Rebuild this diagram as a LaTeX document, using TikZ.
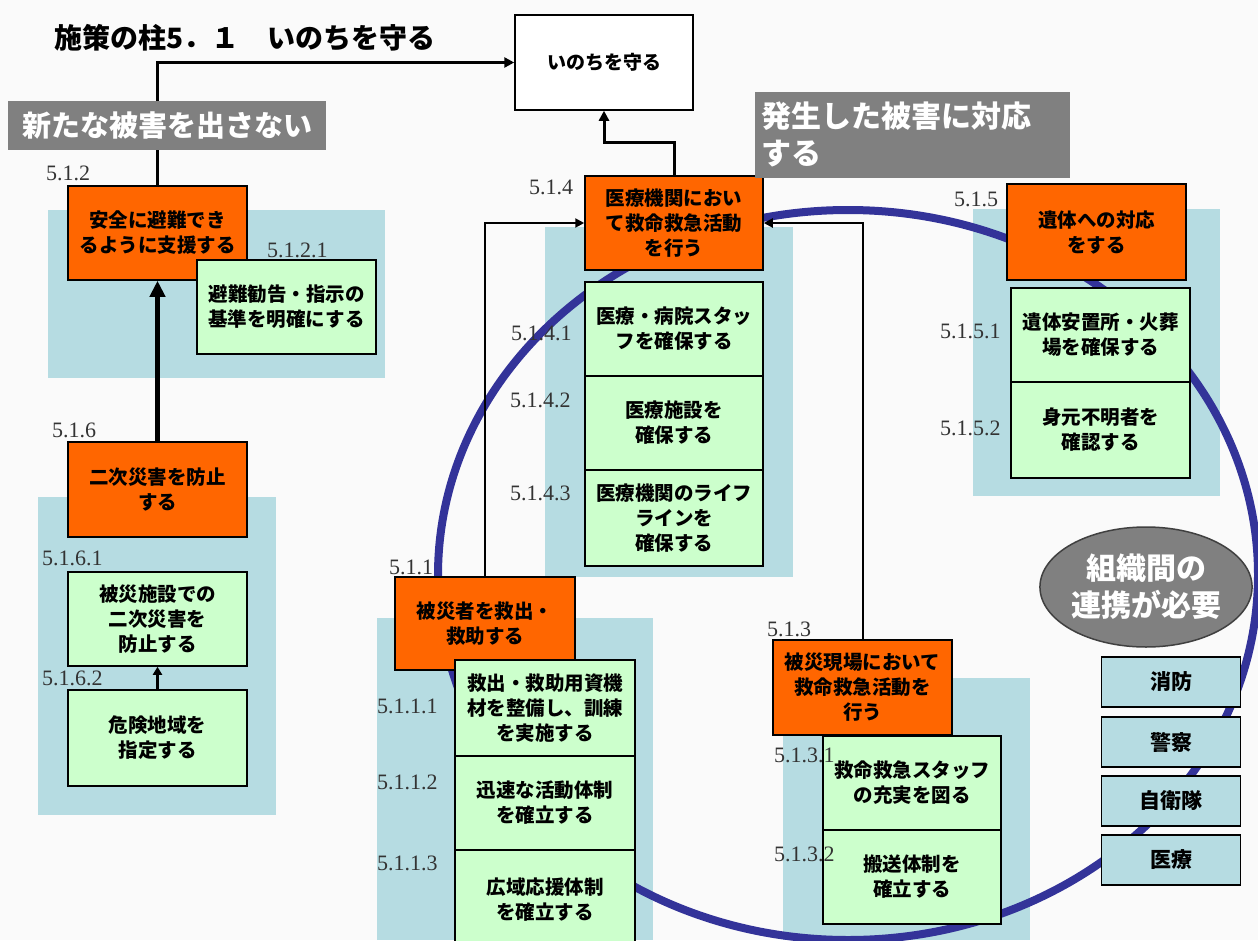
\documentclass[tikz,border=0pt]{standalone}
\usepackage{fontspec}
\newfontfamily\jp{Noto Sans CJK JP}
\newfontfamily\lab{Liberation Serif}
\usetikzlibrary{arrows.meta,shapes.geometric}
\definecolor{orangebox}{HTML}{FF6600}
\definecolor{greenbox}{HTML}{CCFFCC}
\definecolor{panelblue}{HTML}{B6DCE2}
\definecolor{graylab}{HTML}{808080}
\definecolor{ringblue}{HTML}{333399}
\definecolor{bgcol}{HTML}{FAFAFA}
\definecolor{numcol}{HTML}{333333}
\begin{document}
\begin{tikzpicture}[x=1pt,y=-1pt,
  box/.style={draw=black, line width=1.5pt, inner sep=0pt, align=center, text=black,
    font=\jp\bfseries\fontsize{19.5}{25}\selectfont},
  obox/.style={box, fill=orangebox, minimum width=179pt, minimum height=94pt},
  gbox/.style={box, fill=greenbox, minimum width=179pt, minimum height=94pt},
  orgbox/.style={box, fill=panelblue, minimum width=139pt, minimum height=50pt,
    font=\jp\bfseries\fontsize{21}{25}\selectfont},
  numlab/.style={anchor=west, inner sep=0pt, text=numcol, font=\lab\fontsize{22}{22}\selectfont},
  graylabel/.style={fill=graylab, text=white, inner sep=0pt, font=\jp\bfseries\fontsize{29}{37}\selectfont},
  panel/.style={fill=panelblue},
  conn/.style={draw=black, line width=2pt, -{Triangle[length=9pt,width=9pt]}},
  connthick/.style={draw=black, line width=3pt, -{Triangle[length=10pt,width=10pt]}}
]
\useasboundingbox (0,0) rectangle (1258,940);
\fill[bgcol] (0,0) rectangle (1258,940);

% panels
\fill[panel] (48,210) rectangle (385,378);
\fill[panel] (38,497) rectangle (276,815);
\fill[panel] (545,227) rectangle (793,577);
\fill[panel] (377,618) rectangle (653,940);
\fill[panel] (783,678) rectangle (1030,940);
\fill[panel] (973,209) rectangle (1220,496);

% ring
\draw[ringblue, line width=8pt] (848,575) ellipse [x radius=410pt, y radius=365pt];

% top goal
\node[box, fill=white, minimum width=178pt, minimum height=95pt, font=\jp\bfseries\fontsize{19}{25}\selectfont] (top) at (604,62.5) {いのちを守る};

% 5.1.2
\node[obox] (n512) at (157.5,233) {安全に避難でき\\るように支援する};
\node[gbox] (n5121) at (286.5,307) {避難勧告・指示の\\基準を明確にする};

% 5.1.6
\node[obox, minimum height=95pt] (n516) at (157.5,489.5) {二次災害を防止\\する};
\node[gbox] (n5161) at (157.5,619) {被災施設での\\二次災害を\\防止する};
\node[gbox, minimum height=96pt] (n5162) at (157.5,738) {危険地域を\\指定する};

% 5.1.4
\node[obox, minimum width=178pt] (n514) at (674,223) {医療機関におい\\て救命救急活動\\を行う};
\node[gbox, minimum width=178pt] (n5141) at (674,329) {医療・病院スタッ\\フを確保する};
\node[gbox, minimum width=178pt] (n5142) at (674,423) {医療施設を\\確保する};
\node[gbox, minimum width=178pt, minimum height=96pt] (n5143) at (674,518) {医療機関のライフ\\ラインを\\確保する};

% 5.1.1
\node[obox, minimum width=180pt, minimum height=93pt] (n511) at (485,623.5) {被災者を救出・\\救助する};
\node[gbox, minimum width=180pt, minimum height=96pt] (n5111) at (545,708) {救出・救助用資機\\材を整備し、訓練\\を実施する};
\node[gbox, minimum width=180pt] (n5112) at (545,803) {迅速な活動体制\\を確立する};
\node[gbox, minimum width=180pt, minimum height=100pt] (n5113) at (545,900) {広域応援体制\\を確立する};

% 5.1.3
\node[obox, minimum height=95pt] (n513) at (862.5,687.5) {被災現場において\\救命救急活動を\\行う};
\node[gbox, minimum width=178pt] (n5131) at (912,783) {救命救急スタッフ\\の充実を図る};
\node[gbox, minimum width=178pt] (n5132) at (912,877) {搬送体制を\\確立する};

% 5.1.5
\node[obox, minimum height=96pt] (n515) at (1096.5,232) {遺体への対応\\をする};
\node[gbox] (n5151) at (1100.5,335) {遺体安置所・火葬\\場を確保する};
\node[gbox, minimum height=96pt] (n5152) at (1100.5,430) {身元不明者を\\確認する};

% organisations
\node[orgbox] (o1) at (1171,682) {消防};
\node[orgbox] (o2) at (1171,742) {警察};
\node[orgbox] (o3) at (1171,801) {自衛隊};
\node[orgbox] (o4) at (1171,860) {医療};
\node[ellipse, draw=black!75, line width=1.5pt, fill=graylab, minimum width=188pt, minimum height=120pt,
  inner sep=0pt, align=center, text=white, font=\jp\bfseries\fontsize{30}{37}\selectfont] (coop) at (1146,587) {組織間の\\連携が必要};

% connectors
\draw[connthick] (n512.north) |- (top.west);
\draw[connthick] (n514.north) -- ++(0,-33) -| (top.south);
\draw[conn] (n511.north) |- (n514.west);
\draw[conn] (n513.north) |- (n514.east);
\draw[draw=black, line width=4.5pt, -{Triangle[length=16pt,width=15pt]}] (n516.north) -- (n512.south);
\draw[draw=black, line width=2.5pt, -{Triangle[length=8pt,width=9pt]}] (n5162.north) -- (n5161.south);

% headings
\node[anchor=west, inner sep=0pt, font=\jp\bfseries\fontsize{28}{30}\selectfont] (title) at (54,38) {施策の柱5．１　いのちを守る};
\node[graylabel, minimum width=318pt, minimum height=49pt] (g1) at (167,125.5) {新たな被害を出さない};
\node[graylabel, minimum width=315pt, minimum height=86pt, text width=303pt, align=left,
  font=\jp\bfseries\fontsize{30}{37}\selectfont] (g2) at (912.5,134.5) {発生した被害に対応\\する};

% number labels
\node[numlab] (l512) at (46,173) {5.1.2};
\node[numlab] (l5121) at (267,250) {5.1.2.1};
\node[numlab] (l516) at (52,430) {5.1.6};
\node[numlab] (l5161) at (42,558) {5.1.6.1};
\node[numlab] (l5162) at (42,678) {5.1.6.2};
\node[numlab] (l514) at (529,187) {5.1.4};
\node[numlab] (l5141) at (511,333) {5.1.4.1};
\node[numlab] (l5142) at (510,400) {5.1.4.2};
\node[numlab] (l5143) at (510,493) {5.1.4.3};
\node[numlab] (l511) at (389,567) {5.1.1};
\node[numlab] (l5111) at (377,706) {5.1.1.1};
\node[numlab] (l5112) at (377,782) {5.1.1.2};
\node[numlab] (l5113) at (377,863) {5.1.1.3};
\node[numlab] (l513) at (767,629) {5.1.3};
\node[numlab] (l5131) at (774,755) {5.1.3.1};
\node[numlab] (l5132) at (774,854) {5.1.3.2};
\node[numlab] (l515) at (954,199) {5.1.5};
\node[numlab] (l5151) at (940,331) {5.1.5.1};
\node[numlab] (l5152) at (940,428) {5.1.5.2};
\end{tikzpicture}
\end{document}
